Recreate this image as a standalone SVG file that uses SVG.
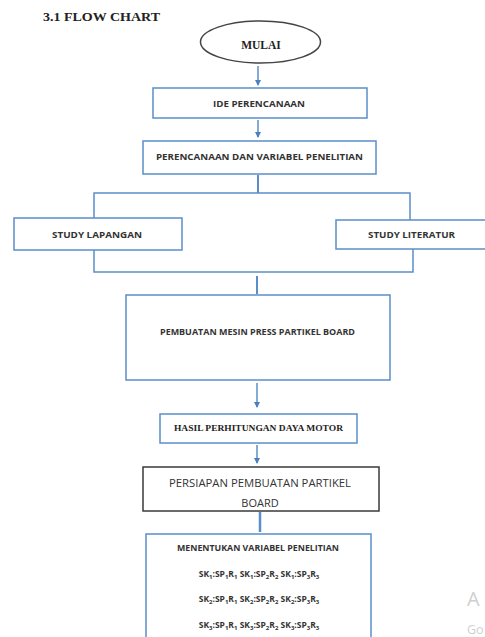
<svg xmlns="http://www.w3.org/2000/svg" width="485" height="637" viewBox="0 0 485 637">
<style>
.box{fill:#fff;stroke:#5b8ec9;stroke-width:1.5}
.dbox{fill:#fff;stroke:#3a3a3a;stroke-width:1.5}
.lbl{font-family:"Open Sans","Liberation Sans",sans-serif;font-weight:bold;font-size:9.5px;fill:#333;text-anchor:middle}
.ser{font-family:"Liberation Serif",serif;font-weight:bold;fill:#222;text-anchor:middle}
.con{fill:none;stroke:#5b8ec9;stroke-width:1.5}
.sub{font-size:6px}
</style>
<defs>
<marker id="ah" viewBox="0 0 6 6" refX="5" refY="3" markerWidth="4" markerHeight="4" orient="auto" markerUnits="strokeWidth">
<path d="M0,0 L6,3 L0,6 z" fill="#4a7fc0"/>
</marker>
</defs>
<text x="43" y="21" font-family="Liberation Serif,serif" font-weight="bold" font-size="13.5" fill="#222" textLength="117" lengthAdjust="spacingAndGlyphs">3.1 FLOW CHART</text>

<g id="connectors">
<line class="con" x1="258" y1="66" x2="258" y2="85" marker-end="url(#ah)"/>
<line class="con" x1="258" y1="120" x2="258" y2="137" marker-end="url(#ah)"/>
<line class="con" x1="258" y1="175" x2="258" y2="193" style="stroke-width:2"/>
<polyline class="con" points="94,218 94,193 410,193 410,220"/>
<polyline class="con" points="94,250 94,272 413,272 413,249"/>
<line class="con" x1="257" y1="276" x2="257" y2="294" style="stroke-width:2"/>
<line class="con" x1="257" y1="383" x2="257" y2="407" marker-end="url(#ah)"/>
<line class="con" x1="257" y1="445" x2="257" y2="463" marker-end="url(#ah)"/>
<line class="con" x1="260" y1="512" x2="260" y2="532" style="stroke-width:2.5"/>
</g>

<g id="mulai">
<ellipse cx="260.5" cy="42" rx="60" ry="21" fill="#fff" stroke="#444" stroke-width="1.5"/>
<text class="ser" x="261" y="49" font-size="11.5">MULAI</text>
</g>

<g id="ide">
<rect class="box" x="153" y="88" width="214" height="30"/>
<text class="lbl" x="259" y="107" textLength="92" lengthAdjust="spacingAndGlyphs">IDE PERENCANAAN</text>
</g>

<g id="perencanaan">
<rect class="box" x="143" y="141" width="233" height="33"/>
<text class="lbl" x="259.5" y="160" textLength="207" lengthAdjust="spacingAndGlyphs">PERENCANAAN DAN VARIABEL PENELITIAN</text>
</g>

<g id="study-lapangan">
<rect class="box" x="14" y="218" width="168" height="32"/>
<text class="lbl" x="97" y="237.5" textLength="90" lengthAdjust="spacingAndGlyphs">STUDY LAPANGAN</text>
</g>

<g id="study-literatur">
<rect class="box" x="336" y="220" width="152" height="29"/>
<text class="lbl" x="411.5" y="238" textLength="87" lengthAdjust="spacingAndGlyphs">STUDY LITERATUR</text>
</g>

<g id="pembuatan">
<rect class="box" x="126" y="295" width="264" height="85"/>
<text class="lbl" x="257.5" y="334.5" style="font-size:8.5px" textLength="195" lengthAdjust="spacingAndGlyphs">PEMBUATAN MESIN PRESS PARTIKEL BOARD</text>
</g>

<g id="hasil">
<rect class="box" x="160" y="414" width="197" height="29"/>
<text class="ser" x="258.5" y="431" font-size="8.5" textLength="169" lengthAdjust="spacingAndGlyphs">HASIL PERHITUNGAN DAYA MOTOR</text>
</g>

<g id="persiapan">
<rect class="dbox" x="143" y="467" width="236" height="44"/>
<text x="260" y="486.5" font-family="Open Sans,Liberation Sans,sans-serif" font-size="11" fill="#333" text-anchor="middle" textLength="182" lengthAdjust="spacingAndGlyphs">PERSIAPAN PEMBUATAN PARTIKEL</text>
<text x="260" y="506.5" font-family="Open Sans,Liberation Sans,sans-serif" font-size="11" fill="#333" text-anchor="middle">BOARD</text>
</g>

<g id="menentukan">
<rect class="box" x="146" y="534" width="225" height="110"/>
<text class="lbl" x="258" y="550.5" style="font-size:8.5px" textLength="162" lengthAdjust="spacingAndGlyphs">MENENTUKAN VARIABEL PENELITIAN</text>
<text class="lbl" x="259" y="577" style="font-size:8.5px">SK<tspan class="sub" dy="1.5">1</tspan><tspan dy="-1.5">:SP</tspan><tspan class="sub" dy="1.5">1</tspan><tspan dy="-1.5">R</tspan><tspan class="sub" dy="1.5">1</tspan><tspan dy="-1.5"> SK</tspan><tspan class="sub" dy="1.5">1</tspan><tspan dy="-1.5">:SP</tspan><tspan class="sub" dy="1.5">2</tspan><tspan dy="-1.5">R</tspan><tspan class="sub" dy="1.5">2</tspan><tspan dy="-1.5"> SK</tspan><tspan class="sub" dy="1.5">1</tspan><tspan dy="-1.5">:SP</tspan><tspan class="sub" dy="1.5">3</tspan><tspan dy="-1.5">R</tspan><tspan class="sub" dy="1.5">3</tspan></text>
<text class="lbl" x="259" y="602" style="font-size:8.5px">SK<tspan class="sub" dy="1.5">2</tspan><tspan dy="-1.5">:SP</tspan><tspan class="sub" dy="1.5">1</tspan><tspan dy="-1.5">R</tspan><tspan class="sub" dy="1.5">1</tspan><tspan dy="-1.5"> SK</tspan><tspan class="sub" dy="1.5">2</tspan><tspan dy="-1.5">:SP</tspan><tspan class="sub" dy="1.5">2</tspan><tspan dy="-1.5">R</tspan><tspan class="sub" dy="1.5">2</tspan><tspan dy="-1.5"> SK</tspan><tspan class="sub" dy="1.5">2</tspan><tspan dy="-1.5">:SP</tspan><tspan class="sub" dy="1.5">3</tspan><tspan dy="-1.5">R</tspan><tspan class="sub" dy="1.5">3</tspan></text>
<text class="lbl" x="259" y="628" style="font-size:8.5px">SK<tspan class="sub" dy="1.5">3</tspan><tspan dy="-1.5">:SP</tspan><tspan class="sub" dy="1.5">1</tspan><tspan dy="-1.5">R</tspan><tspan class="sub" dy="1.5">1</tspan><tspan dy="-1.5"> SK</tspan><tspan class="sub" dy="1.5">3</tspan><tspan dy="-1.5">:SP</tspan><tspan class="sub" dy="1.5">2</tspan><tspan dy="-1.5">R</tspan><tspan class="sub" dy="1.5">2</tspan><tspan dy="-1.5"> SK</tspan><tspan class="sub" dy="1.5">3</tspan><tspan dy="-1.5">:SP</tspan><tspan class="sub" dy="1.5">3</tspan><tspan dy="-1.5">R</tspan><tspan class="sub" dy="1.5">3</tspan></text>
</g>

<g id="watermark" font-family="Open Sans,Liberation Sans,sans-serif" fill="#cfcfcf">
<text x="467" y="606" font-size="20">A</text>
<text x="467" y="634" font-size="12.5">Go</text>
</g>
</svg>
